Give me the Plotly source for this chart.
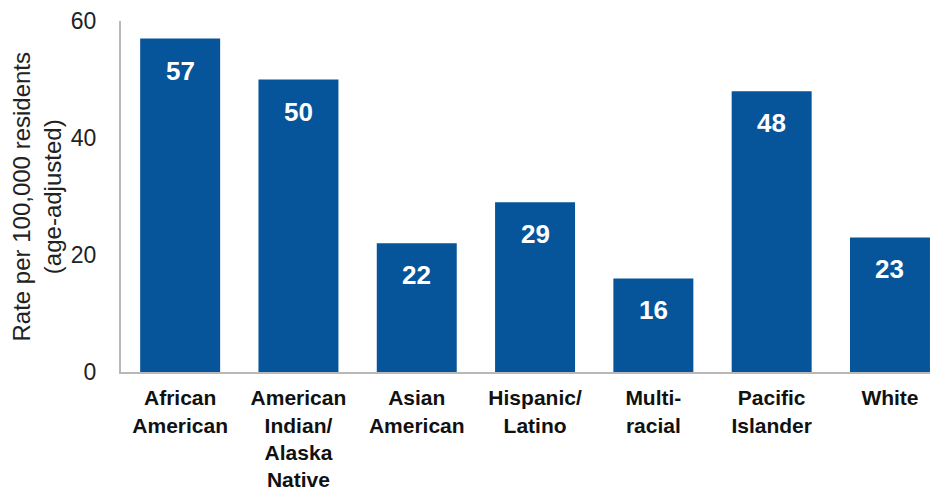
import plotly.graph_objects as go

categories = ["African<br>American", "American<br>Indian/<br>Alaska<br>Native", "Asian<br>American",
              "Hispanic/<br>Latino", "Multi-<br>racial", "Pacific<br>Islander", "White"]
values = [57, 50, 22, 29, 16, 48, 23]
value_labels = ["57", "50", "22", "29", "16", "48", "23"]
y_ticks = [0, 20, 40, 60]
y_title = "Rate per 100,000 residents<br>(age-adjusted)"

bar_color = "#06549A"
font_family = "Arial, Liberation Sans, sans-serif"

fig = go.Figure()
fig.add_trace(go.Bar(
    x=list(range(len(categories))),
    y=values,
    marker=dict(color=bar_color, line=dict(width=0)),
    width=0.676,
    hoverinfo="skip",
))

for i, (v, t) in enumerate(zip(values, value_labels)):
    fig.add_annotation(x=i, y=v, text="<b>%s</b>" % t, showarrow=False,
                       yanchor="top", yshift=-15,
                       font=dict(family=font_family, size=26, color="white"))

fig.add_annotation(xref="paper", yref="paper", x=0, y=0.5, xanchor="center", yanchor="middle",
                   xshift=-85, text=y_title, textangle=-90, showarrow=False,
                   font=dict(family=font_family, size=24, color="#222222"))

fig.update_layout(
    width=930, height=483,
    margin=dict(l=113, r=0, t=13, b=119),
    paper_bgcolor="white", plot_bgcolor="white",
    showlegend=False,
    font=dict(family=font_family, color="#1a1a1a"),
)
fig.update_xaxes(
    range=[-0.5, 6.406],
    tickmode="array", tickvals=list(range(len(categories))),
    ticktext=["<b>%s</b>" % c for c in categories],
    tickfont=dict(size=21, color="#111111", family=font_family),
    showline=True, linecolor="#b8b8b8", linewidth=2,
    showgrid=False, zeroline=False, ticks="",
    ticklabelstandoff=6, automargin=False,
)
fig.update_yaxes(
    range=[0, 60],
    tickmode="array", tickvals=y_ticks,
    tickfont=dict(size=23, color="#222222", family=font_family),
    showline=True, linecolor="#b8b8b8", linewidth=2,
    showgrid=False, zeroline=False, ticks="",
    ticklabelstandoff=18, automargin=False,
)

fig.write_html("out.html")
